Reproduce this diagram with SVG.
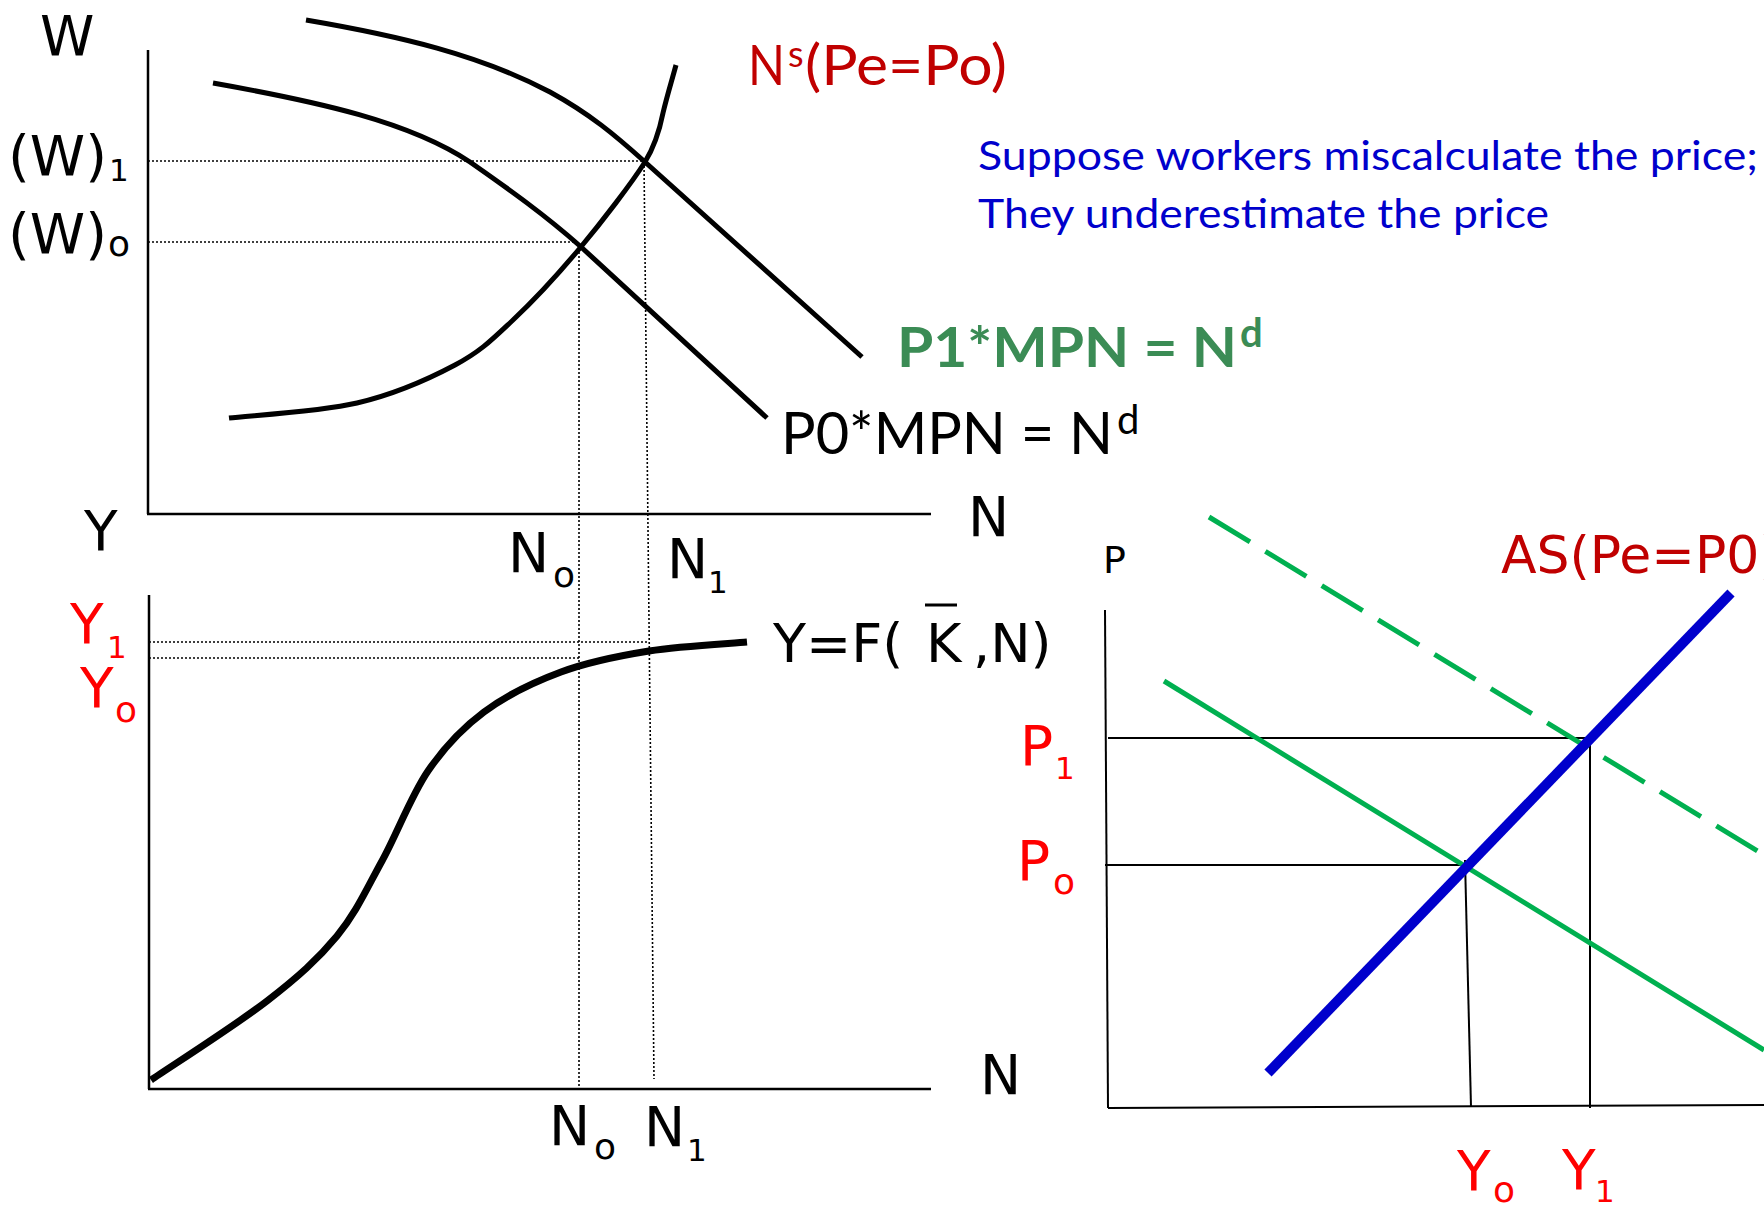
<svg xmlns="http://www.w3.org/2000/svg" width="1764" height="1208" viewBox="0 0 1764 1208">
<style>
.dv{font-family:"DejaVu Sans","Liberation Sans",sans-serif;}
.cb{font-family:Lato,"Liberation Sans",sans-serif;}
.big{font-size:55px;}
.sub{font-size:31px;}
.subo{font-size:36px;}
.red{fill:#FF0000;}
.dred{fill:#C00000;}
.blk{fill:#000;}
.axis{stroke:#000;stroke-width:2.5;fill:none;}
.thin{stroke:#000;stroke-width:2;fill:none;}
.dot{stroke:#000;stroke-width:1.6;stroke-dasharray:2 2;fill:none;}
.curve{stroke:#000;stroke-width:5;fill:none;}
</style>
<rect width="1764" height="1208" fill="#fff"/>

<g id="labor-market">
  <line class="axis" x1="148" y1="50" x2="148" y2="514"/>
  <line class="axis" x1="147" y1="514" x2="931" y2="514"/>
  <text class="dv big blk" x="40" y="55">W</text>
  <text class="dv blk" font-size="56" x="8" y="175">(W)</text>
  <text class="dv sub blk" x="109" y="181">1</text>
  <text class="dv blk" font-size="56" x="8" y="253">(W)</text>
  <text class="dv subo blk" x="108" y="256">o</text>
  <text class="dv big blk" x="968" y="536">N</text>
</g>

<g id="production">
  <line class="axis" x1="149" y1="595" x2="149" y2="1089"/>
  <line class="axis" x1="148" y1="1089" x2="931" y2="1089"/>
  <text class="dv big blk" x="84" y="550">Y</text>
  <text class="dv big blk" x="980" y="1094">N</text>
  <text class="dv big red" x="70" y="643">Y</text>
  <text class="dv sub red" x="107" y="658">1</text>
  <text class="dv big red" x="80" y="707">Y</text>
  <text class="dv subo red" x="115" y="722">o</text>
  <path id="prod-curve" d="M151,1080 C170.3,1066.8 236,1025 267,1001 C298,977 317.8,959.3 337,936 C356.2,912.7 366.8,888.5 382,861 C397.2,833.5 411,795.8 428,771 C445,746.2 461.8,728.5 484,712 C506.2,695.5 533.5,682.2 561,672 C588.5,661.8 618,656 649,651 C680,646 730.7,643.5 747,642" stroke="#000" stroke-width="7" fill="none"/>
  <text class="dv blk" font-size="54" x="773" y="662">Y=F(</text>
  <text class="dv blk" font-size="54" x="926" y="662">K</text>
  <line x1="925" y1="605" x2="957" y2="605" stroke="#000" stroke-width="3"/>
  <text class="dv blk" font-size="54" x="973" y="662">,N)</text>
</g>

<g id="connectors">
  <line class="dot" x1="148" y1="161" x2="644" y2="161"/>
  <line class="dot" x1="148" y1="242" x2="578" y2="242"/>
  <line class="dot" x1="579" y1="244" x2="579" y2="1089"/>
  <line class="dot" x1="644" y1="162" x2="654" y2="1079"/>
  <line class="dot" x1="149" y1="642" x2="649" y2="642"/>
  <line class="dot" x1="149" y1="658" x2="579" y2="658"/>
</g>

<g id="curves-labor">
  <path id="supply" class="curve" d="M229,418 C250.3,415.5 319.3,411.8 357,403 C394.7,394.2 429,378.8 455,365 C481,351.2 492.2,339.5 513,320 C533.8,300.5 558,274.3 580,248 C602,221.7 631.5,183.3 645,162 C656,144 660,128 663,113 C667,96 672,80 676,65"/>
  <path id="demand0" class="curve" d="M213,83 C320,102 410,122 470,162 C510,190 545,215 580,246 L767,418"/>
  <path id="demand1" class="curve" d="M306,20 C400,36 480,55 550,92 C590,114 615,135 645,162 L862,357"/>
</g>

<g id="labels-top">
  <text class="cb dred" font-size="56" x="748" y="85" textLength="37" lengthAdjust="spacingAndGlyphs">N</text>
  <text class="cb dred" font-size="36" x="788" y="67">s</text>
  <text class="cb dred" font-size="56" x="805" y="85" textLength="202" lengthAdjust="spacingAndGlyphs">(Pe=Po)</text>
  <text class="cb" fill="#0000CC" font-size="40" x="978" y="170" textLength="780" lengthAdjust="spacingAndGlyphs">Suppose workers miscalculate the price;</text>
  <text class="cb" fill="#0000CC" font-size="40" x="978" y="228" textLength="571" lengthAdjust="spacingAndGlyphs">They underestimate the price</text>
  <text class="cb" fill="#3B8C55" font-weight="bold" font-size="56" x="897" y="367" textLength="340" lengthAdjust="spacingAndGlyphs">P1*MPN = N</text>
  <text class="cb" fill="#3B8C55" font-weight="bold" font-size="40" x="1240" y="347">d</text>
  <text class="cb blk" font-size="58" x="781" y="454" textLength="332" lengthAdjust="spacingAndGlyphs">P0*MPN = N</text>
  <text class="cb blk" font-size="40" x="1117" y="434">d</text>
  <text class="dv big blk" x="508" y="572">N</text>
  <text class="dv subo blk" x="553" y="587">o</text>
  <text class="dv big blk" x="667" y="578">N</text>
  <text class="dv sub blk" x="708" y="593">1</text>
  <text class="dv big blk" x="549" y="1145">N</text>
  <text class="dv subo blk" x="594" y="1159">o</text>
  <text class="dv big blk" x="644" y="1146">N</text>
  <text class="dv sub blk" x="687" y="1161">1</text>
</g>

<g id="as-ad">
  <line class="thin" x1="1105" y1="610" x2="1108" y2="1108"/>
  <line class="thin" x1="1108" y1="1108" x2="1764" y2="1105"/>
  <line class="thin" x1="1108" y1="738" x2="1590" y2="738"/>
  <line class="thin" x1="1105" y1="865" x2="1465" y2="865"/>
  <line class="thin" x1="1465" y1="860" x2="1471" y2="1107"/>
  <line class="thin" x1="1590" y1="738" x2="1590" y2="1108"/>
  <line id="ad1" x1="1209" y1="517" x2="1764" y2="855" stroke="#00B050" stroke-width="5" stroke-dasharray="48 18"/>
  <line id="ad0" x1="1164" y1="681" x2="1764" y2="1050" stroke="#00B050" stroke-width="5"/>
  <line id="as" x1="1268" y1="1073" x2="1731" y2="593" stroke="#0000CC" stroke-width="10"/>
  <text class="dv blk" font-size="38" x="1103" y="573">P</text>
  <text class="dv dred" font-size="52" x="1501" y="573">AS(Pe=P0)</text>
  <text class="dv big red" x="1020" y="765">P</text>
  <text class="dv sub red" x="1055" y="779">1</text>
  <text class="dv big red" x="1017" y="880">P</text>
  <text class="dv subo red" x="1053" y="894">o</text>
  <text class="dv big red" x="1457" y="1190">Y</text>
  <text class="dv subo red" x="1493" y="1202">o</text>
  <text class="dv big red" x="1562" y="1189">Y</text>
  <text class="dv sub red" x="1595" y="1202">1</text>
</g>
</svg>
